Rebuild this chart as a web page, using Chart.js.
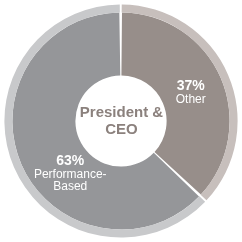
<!DOCTYPE html>
<html><head><meta charset="utf-8">
<script src="https://cdn.jsdelivr.net/npm/chart.js@4"></script>
<style>html,body{margin:0;padding:0;background:#fff;overflow:hidden}</style>
</head><body>
<canvas id="c" width="242" height="242" style="display:block;width:242px;height:242px"></canvas>
<script>
const categories = ['Other', 'Performance-Based'];
const shares = [37, 63];
const percentLabels = ['37%', '63%'];
const nameLines = [['Other'], ['Performance-', 'Based']];
const centerTitle = ['President &', 'CEO'];

const darkColors = ['#978e8a', '#959699'];
const lightColors = ['#c7bfbc', '#c8c9cb'];
const FONT = '"Liberation Sans", Arial, Helvetica, sans-serif';

const labelPlugin = {
  id: 'labels',
  afterDraw(chart, args, opts) {
    const ctx = chart.ctx;
    const meta = chart.getDatasetMeta(1);
    ctx.save();
    ctx.textAlign = 'center';
    ctx.textBaseline = 'alphabetic';
    ctx.fillStyle = '#ffffff';
    meta.data.forEach((arc, i) => {
      const p = arc.tooltipPosition();
      const n = opts.nudge[i];
      const x = p.x + n[0], y = p.y + n[1];
      ctx.font = 'bold 14px ' + FONT;
      ctx.fillText(percentLabels[i], x, y);
      ctx.font = '12px ' + FONT;
      nameLines[i].forEach((t, j) => ctx.fillText(t, x, y + 13 + j * 12.5));
    });
    const cx = (chart.chartArea.left + chart.chartArea.right) / 2;
    const cy = (chart.chartArea.top + chart.chartArea.bottom) / 2;
    ctx.fillStyle = '#8b817d';
    ctx.font = 'bold 15px ' + FONT;
    ctx.fillText(centerTitle[0], cx + 0.5, cy - 4);
    ctx.fillText(centerTitle[1], cx + 0.5, cy + 13);
    ctx.restore();
  }
};

new Chart(document.getElementById('c'), {
  type: 'doughnut',
  data: {
    labels: categories,
    datasets: [
      { data: shares, backgroundColor: lightColors, borderWidth: 0, spacing: 1.2, weight: 8 },
      { data: shares, backgroundColor: darkColors, borderWidth: 0, spacing: 1.2, weight: 63 }
    ]
  },
  options: {
    responsive: false,
    animation: false,
    devicePixelRatio: 1,
    cutout: 45,
    layout: { padding: 4.4 },
    plugins: {
      legend: { display: false },
      tooltip: { enabled: false },
      labels: { nudge: [[-1, 0], [20, 13]] }
    }
  },
  plugins: [labelPlugin]
});
</script>
</body></html>
